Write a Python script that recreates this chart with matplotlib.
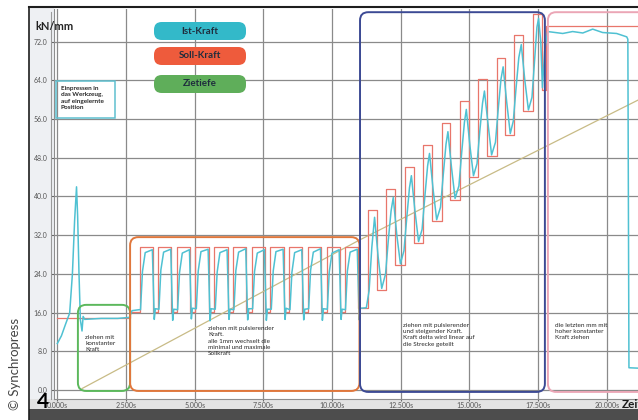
from matplotlib import pyplot as plt
from matplotlib.patches import FancyBboxPatch, Rectangle
from matplotlib.lines import Line2D

plt.rcParams['font.family'] = ['Lato', 'DejaVu Sans']

# ---- Daten ----
# Soll-Kraft: Startstufe, Pulse (an/aus, oben/unten), Endstufe
soll_start_t = [0.0, 2.65, 2.65]
soll_start_v = [14.9, 14.9, 16.2]
soll_puls_an = [3.00, 3.67, 4.35, 5.03, 5.72, 6.40, 7.08, 7.76, 8.44, 9.12, 9.80, 10.46,
                11.30, 11.98, 12.65, 13.31, 13.99, 14.66, 15.31, 15.99, 16.62, 17.30]
soll_puls_aus = [3.48, 4.15, 4.83, 5.51, 6.20, 6.88, 7.56, 8.24, 8.92, 9.60, 10.28, 10.94,
                 11.63, 12.31, 12.97, 13.63, 14.30, 14.97, 15.63, 16.31, 16.97, 17.63]
soll_oben = [29.6] * 12 + [37.2, 41.5, 46.1, 50.6, 55.2, 59.7, 64.3, 68.6, 73.3, 77.8]
soll_unten = [16.2] * 11 + [17.0] + [20.7, 25.8, 30.4, 34.9, 39.3, 44.0, 48.3, 52.7, 57.6, 62.0]
soll_ende_t = [17.80, 17.80, 21.2]
soll_ende_v = [62.0, 75.2, 75.2]

ist_t = [0.00, 0.15, 0.30, 0.45, 0.55, 0.63, 0.70, 0.74, 0.79, 0.84, 0.90, 0.94, 1.00, 1.60, 2.20, 2.62, 2.72, 2.98,
         3.03, 3.10, 3.20, 3.46, 3.51, 3.53, 3.57,
         3.70, 3.77, 3.87, 4.13, 4.18, 4.20, 4.24,
         4.38, 4.45, 4.55, 4.81, 4.86, 4.88, 4.92,
         5.06, 5.13, 5.23, 5.49, 5.54, 5.56, 5.60,
         5.75, 5.82, 5.92, 6.18, 6.23, 6.25, 6.29,
         6.43, 6.50, 6.60, 6.86, 6.91, 6.93, 6.97,
         7.11, 7.18, 7.28, 7.54, 7.59, 7.61, 7.65,
         7.79, 7.86, 7.96, 8.22, 8.27, 8.29, 8.33,
         8.47, 8.54, 8.64, 8.90, 8.95, 8.97, 9.01,
         9.15, 9.22, 9.32, 9.58, 9.63, 9.65, 9.69,
         9.83, 9.90, 10.00, 10.26, 10.31, 10.33, 10.37,
         10.49, 10.56, 10.66, 10.92, 10.97, 10.99, 11.03,
         11.25, 11.35, 11.45, 11.55, 11.68, 11.81,
         11.95, 12.05, 12.15, 12.23, 12.36, 12.49,
         12.62, 12.72, 12.82, 12.89, 13.02, 13.15,
         13.28, 13.38, 13.48, 13.55, 13.68, 13.81,
         13.95, 14.05, 14.15, 14.22, 14.35, 14.48,
         14.62, 14.72, 14.82, 14.89, 15.02, 15.15,
         15.28, 15.38, 15.48, 15.55, 15.68, 15.81,
         15.95, 16.05, 16.15, 16.23, 16.36, 16.49,
         16.60, 16.70, 16.80, 16.89, 17.02, 17.15,
         17.28, 17.38, 17.46, 17.52, 17.60, 17.66, 17.74, 17.85,
         18.40, 18.76, 19.13, 19.49, 19.85, 20.36, 20.73, 20.77, 20.81, 21.20]
ist_v = [9.6, 11.2, 13.6, 15.9, 24.0, 35.0, 42.0, 36.0, 24.0, 14.5, 12.2, 15.2, 14.6, 14.8, 14.8, 15.0, 16.4, 16.6,
         16.6, 24.5, 28.4, 29.0, 19.0, 14.6, 16.8,
         16.7, 24.8, 28.5, 29.1, 18.8, 14.4, 16.7,
         16.6, 24.3, 28.3, 29.0, 19.2, 14.7, 16.9,
         16.8, 24.6, 28.6, 29.1, 18.9, 14.3, 16.8,
         16.7, 24.4, 28.4, 29.0, 19.1, 14.6, 16.7,
         16.6, 24.7, 28.5, 29.2, 19.0, 14.5, 16.8,
         16.8, 24.5, 28.3, 29.0, 18.8, 14.4, 16.7,
         16.7, 24.6, 28.6, 29.1, 19.2, 14.6, 16.9,
         16.6, 24.3, 28.4, 29.0, 19.0, 14.5, 16.7,
         16.8, 24.7, 28.5, 29.2, 18.9, 14.4, 16.8,
         16.7, 24.4, 28.3, 29.0, 19.1, 14.6, 16.7,
         16.6, 24.6, 28.5, 29.1, 19.0, 14.5, 16.9,
         17.0, 20.5, 29.5, 35.7, 27.5, 21.0,
         24.0, 31.0, 37.0, 39.8, 32.0, 26.1,
         28.8, 35.5, 41.8, 44.3, 37.0, 30.7,
         33.2, 40.0, 46.3, 48.9, 41.5, 35.2,
         37.8, 44.5, 50.8, 53.4, 46.0, 39.6,
         42.2, 49.0, 55.3, 58.0, 50.5, 44.3,
         46.8, 53.5, 59.3, 61.8, 55.0, 48.6,
         51.2, 58.0, 64.2, 66.8, 59.5, 53.0,
         55.6, 62.4, 68.7, 71.4, 64.0, 57.9,
         60.5, 68.5, 75.0, 76.8, 72.0, 62.5, 70.0, 74.1,
         73.7, 74.1, 73.8, 74.6, 73.9, 73.7, 73.0, 72.5, 4.6, 4.5]

# Zieltiefe
ziel_t = [0.9, 11.0, 21.2]
ziel_v = [0.3, 31.0, 60.1]

x_ticks = [0, 2.5, 5, 7.5, 10, 12.5, 15, 17.5, 20]
x_labels = ['0.000s', '2.500s', '5.000s', '7.500s', '10.000s', '12.500s', '15.000s', '17.500s', '20.000s']
y_ticks = [0, 8, 16, 24, 32, 40, 48, 56, 64, 72]
y_labels = ['0.0', '8.0', '16.0', '24.0', '32.0', '40.0', '48.0', '56.0', '64.0', '72.0']

legende = ['Ist-Kraft', 'Soll-Kraft', 'Zietiefe']
legende_farben = ['#33b9c9', '#ee5b3c', '#5fae5a']

# Soll-Kraft als Stufenlinie aufbauen
soll_t = list(soll_start_t)
soll_v = list(soll_start_v)
for an, aus, hi, lo in zip(soll_puls_an, soll_puls_aus, soll_oben, soll_unten):
    soll_t += [an, an, aus, aus]
    soll_v += [soll_v[-1], hi, hi, lo]
soll_t += soll_ende_t
soll_v += soll_ende_v

# ---- Figur ----
W, H = 638, 420
fig = plt.figure(figsize=(W / 100, H / 100), dpi=100)
fig.patch.set_facecolor('white')


def fx(px):
    return px / W


def fy(py):
    return 1 - py / H


def fig_rect(x0, y0, x1, y1, **kw):
    r = Rectangle((fx(x0), fy(y1)), (x1 - x0) / W, (y1 - y0) / H, transform=fig.transFigure, **kw)
    fig.add_artist(r)
    return r


# Hintergrundstreifen
fig_rect(29, 7, 54, 399, facecolor='#eef0f3', edgecolor='none', zorder=0)
fig_rect(29, 399, 638, 409, facecolor='#e3e3e3', edgecolor='none', zorder=0)
fig_rect(29, 409, 638, 420, facecolor='#4d4d4d', edgecolor='none', zorder=0)

# Achse
L, T, R, B = 54, 9, 638, 399
x0_px, sx = 57.3, 27.47
y0_px, sy = 390.0, 4.8375
ax = fig.add_axes([fx(L), fy(B), (R - L) / W, (B - T) / H])
ax.set_xlim((L - x0_px) / sx, (R - x0_px) / sx)
ax.set_ylim((y0_px - B) / sy, (y0_px - T) / sy)

ax.set_xticks(x_ticks)
ax.set_xticklabels(x_labels)
ax.set_yticks(y_ticks)
ax.set_yticklabels(y_labels)
ax.tick_params(axis='x', length=1.5, pad=0.5, labelsize=5, colors='#666666', labelcolor='#555555')
ax.tick_params(axis='y', length=2, pad=2.5, labelsize=5, colors='#666666', labelcolor='#555555')
ax.grid(True, color='#8a8a8a', lw=0.9)
ax.set_axisbelow(True)
for s in ['top', 'right']:
    ax.spines[s].set_visible(False)
ax.spines['left'].set_color('#8e8e8e')
ax.spines['bottom'].set_color('#8e8e8e')

# zweite Achsenlinie links, Rahmen
fig.add_artist(Line2D([fx(50.5), fx(50.5)], [fy(12), fy(399)], transform=fig.transFigure, color='#9a9a9a', lw=0.8))
fig.add_artist(Line2D([fx(29), fx(638)], [fy(7), fy(7)], transform=fig.transFigure, color='#1e1e1e', lw=1.5))
fig.add_artist(Line2D([fx(29), fx(29)], [fy(7), fy(420)], transform=fig.transFigure, color='#1e1e1e', lw=1.2))

# Kurven
ax.plot(ziel_t, ziel_v, color='#c8bb86', lw=0.9, zorder=2)
ax.plot(soll_t, soll_v, color='#e8766b', lw=0.9, zorder=3)
ax.plot(ist_t, ist_v, color='#4fc1d2', lw=1.1, zorder=4)

# Bereichsrahmen
asp = sx / sy


def bereich(t0, t1, v0, v1, farbe):
    p = FancyBboxPatch((t0, v0), t1 - t0, v1 - v0, boxstyle='round,pad=0,rounding_size=0.3',
                       mutation_aspect=asp, fill=False, edgecolor=farbe, lw=1.4, zorder=5)
    ax.add_patch(p)


bereich(0.75, 2.65, -0.2, 17.6, '#5cb85c')
bereich(2.65, 11.0, -0.2, 31.6, '#e0773c')
bereich(11.02, 17.75, -0.4, 78.1, '#3c4a94')
bereich(17.86, 22.0, -0.4, 78.1, '#eba6b6')
ax.add_patch(Rectangle((-0.05, 56.2), 2.15, 7.7, fill=False, edgecolor='#5fc0d0', lw=1.1, zorder=5))

txt = dict(fontsize=4.6, color='#262626', va='top', ha='left', linespacing=1.3, zorder=6)
ax.text(0.12, 62.8, 'Einpressen in\ndas Werkzeug,\nauf eingelernte\nPosition', fontweight='bold', **txt)
ax.text(1.01, 11.4, 'ziehen mit\nkonstanter\nKraft', **txt)
ax.text(5.49, 13.2, 'ziehen mit pulsierender\nKraft.\nalle 1mm wechselt die\nminimal und maximale\nSollkraft', **txt)
ax.text(12.58, 13.85, 'ziehen mit pulsierender\nund steigender Kraft.\nKraft delta wird linear auf\ndie Strecke geteilt', **txt)
ax.text(18.12, 13.85, 'die letzten mm mit\nhoher konstanter\nKraft ziehen', **txt)

# Legenden-Schilder
for i, (name, farbe) in enumerate(zip(legende, legende_farben)):
    top = [22, 47, 75][i]
    p = FancyBboxPatch((fx(154), fy(top + 18)), 92 / W, 18 / H, boxstyle='round,pad=0,rounding_size=0.012',
                       mutation_aspect=W / H, transform=fig.transFigure, facecolor=farbe, edgecolor='none', zorder=7)
    fig.add_artist(p)
    fig.text(fx(200), fy(top + 9), name, ha='center', va='center', fontsize=7, fontweight='bold',
             color='#1f2d3d', zorder=8)

# Beschriftungen
fig.text(fx(35), fy(26), 'kN/mm', fontsize=8, fontweight='bold', color='#222222', va='center', ha='left', zorder=8)
fig.text(fx(622), fy(404), 'Zeit', fontsize=8.5, fontweight='bold', color='#1a1a1a', va='center', ha='left', zorder=8)
fig.text(fx(37), fy(402), '4', fontsize=15, fontweight='bold', color='#000000', va='center', ha='left', zorder=8)
fig.text(fx(15), fy(364), '© Synchropress', fontsize=9.5, color='#444444', rotation=90,
         va='center', ha='center', zorder=8)

fig.savefig('out.png', dpi=100)
